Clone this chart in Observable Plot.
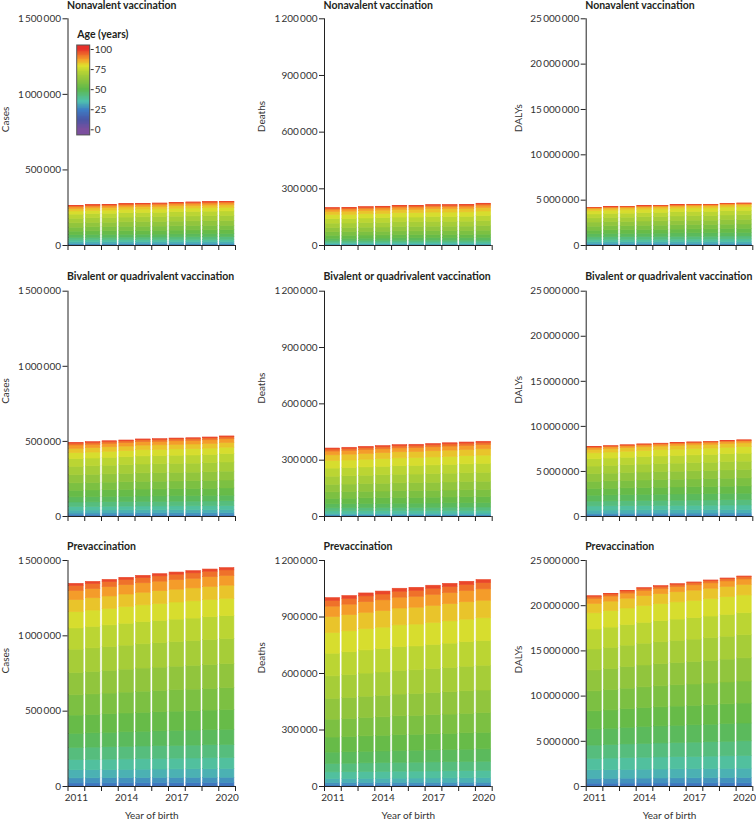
<!DOCTYPE html>
<html>
<head>
<meta charset="utf-8">
<script src="https://cdn.jsdelivr.net/npm/d3@7"></script>
<script src="https://cdn.jsdelivr.net/npm/@observablehq/plot@0.6"></script>
<style>
  body { margin: 0; background: #fff; }
  #chart { position: relative; width: 756px; height: 820px; overflow: hidden; font-family: Lato, sans-serif; background: #fff; }
</style>
</head>
<body>
<div id="chart"></div>
<script>
// ---------- DATA ----------
const years = [2011, 2012, 2013, 2014, 2015, 2016, 2017, 2018, 2019, 2020];
const labelYears = [2011, 2014, 2017, 2020];
const scenarios = ["Nonavalent vaccination", "Bivalent or quadrivalent vaccination", "Prevaccination"];
const measures = ["Cases", "Deaths", "DALYs"];

// start age of each 5-year age group (ages 0-14 contribute nothing)
const ageGroups = [15, 20, 25, 30, 35, 40, 45, 50, 55, 60, 65, 70, 75, 80, 85, 90, 95];
// share of each bar falling in each age group
const casesShares  = [0.003, 0.012, 0.025, 0.040, 0.050, 0.060, 0.070, 0.090, 0.100, 0.110, 0.115, 0.105, 0.080, 0.060, 0.045, 0.025, 0.010];
const deathsShares = [0.001, 0.005, 0.012, 0.022, 0.035, 0.045, 0.060, 0.080, 0.095, 0.110, 0.120, 0.120, 0.110, 0.085, 0.055, 0.030, 0.015];
const dalysShares  = [0.003, 0.012, 0.025, 0.045, 0.060, 0.070, 0.085, 0.095, 0.105, 0.110, 0.110, 0.105, 0.085, 0.050, 0.026, 0.011, 0.003];

// bar totals by year of birth
const casesNonavalent  = [262000, 267000, 269000, 274000, 276000, 278000, 282000, 285000, 287000, 289000];
const casesBivalent    = [490000, 495000, 501000, 506000, 513000, 515000, 519000, 521000, 526000, 533000];
const casesPrevacc     = [1345000, 1358000, 1371000, 1385000, 1398000, 1409000, 1420000, 1429000, 1440000, 1449000];
const deathsNonavalent = [198000, 199000, 203000, 205000, 210000, 210000, 214000, 214000, 215000, 221000];
const deathsBivalent   = [362000, 366000, 371000, 375000, 380000, 382000, 386000, 390000, 394000, 398000];
const deathsPrevacc    = [1000000, 1011000, 1025000, 1035000, 1050000, 1055000, 1066000, 1076000, 1087000, 1096000];
const dalysNonavalent  = [4150000, 4230000, 4260000, 4340000, 4370000, 4450000, 4490000, 4490000, 4600000, 4630000];
const dalysBivalent    = [7700000, 7800000, 7900000, 8000000, 8080000, 8150000, 8220000, 8280000, 8380000, 8450000];
const dalysPrevacc     = [21050000, 21310000, 21640000, 21940000, 22160000, 22380000, 22570000, 22790000, 23010000, 23230000];

// axis ticks
const casesTicks  = [0, 500000, 1000000, 1500000];
const deathsTicks = [0, 300000, 600000, 900000, 1200000];
const dalysTicks  = [0, 5000000, 10000000, 15000000, 20000000, 25000000];
const ageTicks = [0, 25, 50, 75, 100];

// colour ramp for age
const colorAges = [0, 12, 24, 35, 50, 62, 72, 79, 87, 100];
const colorHexes = ["#7b4f9e", "#4a56a6", "#3d7cc4", "#4fc1ae", "#5db94b", "#8fc43d", "#b8d433", "#dfe02c", "#f5a02a", "#e7302a"];

// ---------- LAYOUT ----------
const totals = [
  [casesNonavalent, deathsNonavalent, dalysNonavalent],
  [casesBivalent, deathsBivalent, dalysBivalent],
  [casesPrevacc, deathsPrevacc, dalysPrevacc]
];
const sharesByMeasure = [casesShares, deathsShares, dalysShares];
const ticksByMeasure = [casesTicks, deathsTicks, dalysTicks];

const cols = [
  {left: 0,   marginLeft: 67.5, marginRight: 17,  labelX: 5},
  {left: 252, marginLeft: 72,   marginRight: 12.3, labelX: 9.5},
  {left: 504, marginLeft: 81.7, marginRight: 3.7, labelX: 14.5}
];
const rowsLayout = [
  {top: 0,   marginTop: 18.3, plotH: 226.7, height: 271, titleDy: -13.3},
  {top: 271, marginTop: 19.7, plotH: 225.3, height: 270, titleDy: -14.7},
  {top: 541, marginTop: 19,   plotH: 226,   height: 279, titleDy: -14}
];

const fmt = d3.formatLocale({decimal: ".", thousands: "\u2009", grouping: [3], currency: ["", ""]}).format(",");
const colorOpts = {type: "linear", domain: colorAges, range: colorHexes, interpolate: "rgb"};
const boundaries = [years[0] - 0.5, ...years.map(y => y + 0.5)];
const font = {fontFamily: "Lato, sans-serif", fontSize: "10px", color: "#333", background: "transparent", overflow: "visible"};

const chart = document.getElementById("chart");

function place(el, left, top) {
  el.style.position = "absolute";
  el.style.left = left + "px";
  el.style.top = top + "px";
  el.style.maxWidth = "none";
  chart.appendChild(el);
}

rowsLayout.forEach((row, r) => {
  cols.forEach((col, c) => {
    const shares = sharesByMeasure[c];
    const tot = totals[r][c];
    const yTicks = ticksByMeasure[c];
    const yMax = yTicks[yTicks.length - 1];
    const data = [];
    years.forEach((year, i) => {
      ageGroups.forEach((age, j) => {
        data.push({year, age, mid: age + 2.5, value: tot[i] * shares[j]});
      });
    });
    const isBottom = r === rowsLayout.length - 1;
    const marginBottom = row.height - row.marginTop - row.plotH;
    const marks = [
      Plot.rect(data, Plot.stackY({
        x: "year", x1: d => d.year - 0.5, x2: d => d.year + 0.5,
        y: "value", fill: "mid", stroke: "mid", strokeWidth: 0.6,
        insetLeft: 1.1, insetRight: 1.1
      })),
      Plot.ruleY([0], {stroke: "#222", strokeWidth: 1}),
      Plot.ruleX([boundaries[0]], {y1: 0, y2: yMax, stroke: "#222", strokeWidth: 1}),
      Plot.axisY({ticks: yTicks, tickSize: 5, tickPadding: 2, tickFormat: fmt, label: null, stroke: "#222"}),
      Plot.axisX({ticks: boundaries, tickSize: 5, tickFormat: () => "", label: null, stroke: "#222"}),
      Plot.text([measures[c]], {frameAnchor: "left", rotate: -90, dx: col.labelX - col.marginLeft, fill: "#333", fontSize: 10}),
      Plot.text([scenarios[r]], {frameAnchor: "top-left", textAnchor: "start", lineAnchor: "middle", dx: -1, dy: row.titleDy, fontWeight: "bold", fontSize: 10.5, fill: "#231f20"})
    ];
    if (isBottom) {
      marks.push(Plot.axisX({ticks: labelYears, tickSize: 0, tickPadding: 7, tickFormat: d => String(d), label: null}));
      marks.push(Plot.text(["Year of birth"], {frameAnchor: "bottom", lineAnchor: "middle", dy: 29, fill: "#333", fontSize: 10}));
    }
    const svg = Plot.plot({
      width: 252, height: row.height,
      marginLeft: col.marginLeft, marginRight: col.marginRight,
      marginTop: row.marginTop, marginBottom,
      x: {type: "linear", domain: [boundaries[0], boundaries[boundaries.length - 1]], axis: null},
      y: {domain: [0, yMax], axis: null},
      color: colorOpts,
      style: font,
      marks
    });
    place(svg, col.left, row.top);
  });
});

// ---------- LEGEND (inside first panel) ----------
const legendCells = d3.range(-7, 105);
const legend = Plot.plot({
  width: 80, height: 115,
  marginLeft: 16.7, marginRight: 50.3, marginTop: 21, marginBottom: 13.7,
  x: {domain: [0, 1], axis: null},
  y: {domain: [0, 100], axis: null},
  color: colorOpts,
  style: font,
  marks: [
    Plot.rect(legendCells, {x1: 0, x2: 1, y1: d => d, y2: d => d + 1, fill: d => Math.max(0, Math.min(100, d + 0.5)), shapeRendering: "crispEdges"}),
    Plot.rect([0], {x1: 0, x2: 1, y1: -7, y2: 105, fill: "none", stroke: "#555", strokeWidth: 1}),
    Plot.axisY({anchor: "right", ticks: ageTicks, tickSize: 3, tickPadding: 1.5, label: null, stroke: "#333"}),
    Plot.text(["Age (years)"], {frameAnchor: "top-left", textAnchor: "start", lineAnchor: "middle", dy: -14.7, fontWeight: "bold", fontSize: 10.5, fill: "#231f20"})
  ]
});
place(legend, 60, 28);
</script>
</body>
</html>
